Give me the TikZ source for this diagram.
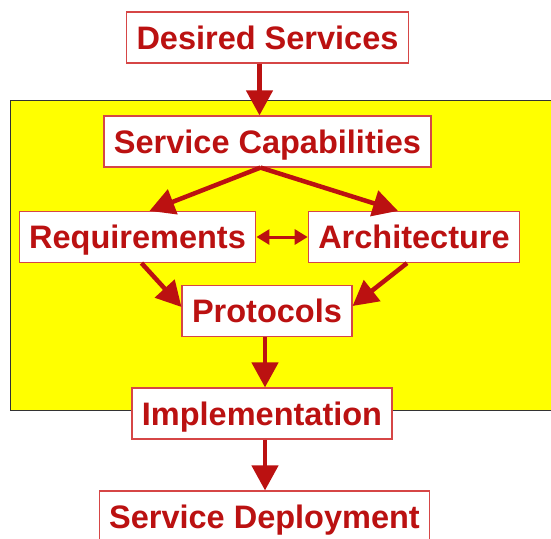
\documentclass[tikz,border=0pt]{standalone}
\usepackage{fontspec}
\setmainfont{Liberation Sans}
\usetikzlibrary{arrows.meta}
\definecolor{boxred}{RGB}{187,17,17}
\definecolor{edgered}{RGB}{214,70,70}
\definecolor{panelyellow}{RGB}{255,255,0}
\tikzset{
  stage/.style={shape=rectangle, draw=edgered, fill=white, line width=1.2pt, text=boxred,
    font=\fontsize{32.5}{36}\selectfont\bfseries, inner xsep=10pt, minimum height=51pt,
    text height=23pt, text depth=0pt},
  flow/.style={-{Triangle[length=25pt,width=26pt]}, line width=4.5pt, draw=boxred, fill=boxred},
  both/.style={{Triangle[length=13pt,width=15pt]}-{Triangle[length=13pt,width=15pt]}, line width=3pt, draw=boxred, fill=boxred}
}
\begin{document}
\begin{tikzpicture}[x=1pt, y=1pt]
\useasboundingbox (0,0) rectangle (551,-538);
\draw[fill=panelyellow, draw=black!80, line width=1pt] (10,-100) rectangle (580,-410);
\node[stage] (DS) at (267.5,-37.5) {Desired Services};
\node[stage] (SC) at (267.5,-141.5) {Service Capabilities};
\node[stage] (REQ) at (137.5,-237) {Requirements};
\node[stage] (ARCH) at (414,-237) {Architecture};
\node[stage] (PROT) at (267,-311) {Protocols};
\node[stage] (IMPL) at (262,-413.5) {Implementation};
\node[stage] (SD) at (264.5,-516.5) {Service Deployment};
\draw [flow] ([xshift=-8pt]DS.south) -- ([xshift=-8pt]SC.north);
\draw [flow] ([xshift=-7pt]SC.south) -- ([xshift=12pt]REQ.north);
\draw [flow] ([xshift=-7pt]SC.south) -- ([xshift=-16pt]ARCH.north);
\draw [both] (REQ.east) -- (ARCH.west);
\draw [flow] ([xshift=4pt]REQ.south) -- ([yshift=4pt]PROT.west);
\draw [flow] ([xshift=-7pt]ARCH.south) -- ([yshift=5pt]PROT.east);
\draw [flow] ([xshift=-2pt]PROT.south) -- ([xshift=3pt]IMPL.north);
\draw [flow] ([xshift=3pt]IMPL.south) -- ([xshift=0.5pt]SD.north);
\end{tikzpicture}
\end{document}
